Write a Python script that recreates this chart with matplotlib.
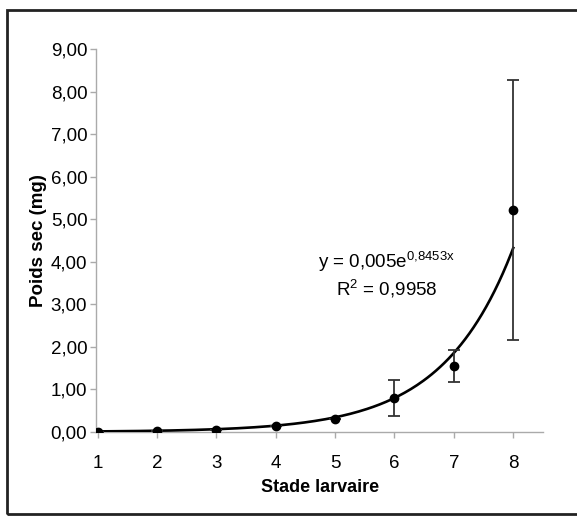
import numpy as np
import matplotlib.pyplot as plt
from matplotlib.patches import Rectangle

plt.rcParams['font.family'] = ['Liberation Sans', 'DejaVu Sans']

# données
stades = [1, 2, 3, 4, 5, 6, 7, 8]
poids = [0.00, 0.02, 0.05, 0.13, 0.31, 0.80, 1.55, 5.22]
erreurs = [0, 0, 0, 0, 0, 0.42, 0.38, 3.06]
yticks = [0, 1, 2, 3, 4, 5, 6, 7, 8, 9]

# courbe de tendance (équation affichée)
coef_a = 0.005
coef_b = 0.8453
r2 = 0.9958

fig = plt.figure(figsize=(5.77, 5.16), dpi=100)
ax = fig.add_axes([0.167, 0.163, 0.774, 0.742])

xs = np.linspace(1, 8, 200)
ax.plot(xs, coef_a * np.exp(coef_b * xs), color='black', lw=1.9, zorder=3)

ax.errorbar(stades, poids, yerr=erreurs, fmt='o', color='black', ms=6,
            ecolor='#333333', elinewidth=1.3, capsize=4.3, capthick=1.3, zorder=4)

ax.text(5.87, 4.0, r'y = 0,005e$^{\mathregular{0{,}8453x}}$', ha='center', va='center', fontsize=13.5)
ax.text(5.87, 3.36, r'R$^{\mathregular{2}}$ = 0,9958', ha='center', va='center', fontsize=13.5)

ax.set_xlim(0.98, 8.5)
ax.set_ylim(0, 9)
ax.set_xticks(stades)
ax.set_yticks(yticks)
ax.set_yticklabels([f'{v:.2f}'.replace('.', ',') for v in yticks])
ax.tick_params(axis='both', labelsize=13.5, color='#aaaaaa', length=4.5, width=1)
ax.tick_params(axis='x', pad=12)
ax.tick_params(axis='y', pad=2)

for s in ['top', 'right']:
    ax.spines[s].set_visible(False)
for s in ['left', 'bottom']:
    ax.spines[s].set_color('#aaaaaa')
    ax.spines[s].set_linewidth(1)

ax.set_xlabel('Stade larvaire', fontsize=13, fontweight='bold', labelpad=5)
ax.set_ylabel('Poids sec (mg)', fontsize=13.5, fontweight='bold', labelpad=3)

# cadre autour du graphique
fig.patches.append(Rectangle((6.5 / 577, 2 / 516), 1.0, 1 - 11.5 / 516,
                             transform=fig.transFigure, fill=False,
                             edgecolor='#222222', lw=2))

fig.savefig('out.png', dpi=100)
